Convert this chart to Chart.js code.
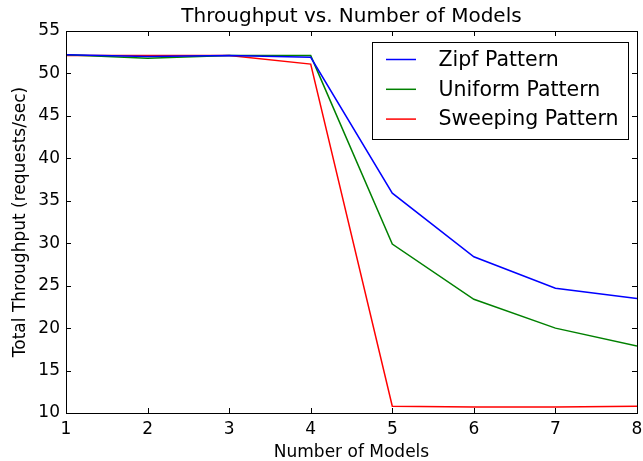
<!DOCTYPE html>
<html>
<head>
<meta charset="utf-8">
<script src="https://cdn.jsdelivr.net/npm/chart.js@4"></script>
<style>
html,body{margin:0;padding:0;background:#fff;}
canvas{display:block;}
</style>
</head>
<body>
<canvas id="c" width="643" height="461"></canvas>
<script>
const models = [1, 2, 3, 4, 5, 6, 7, 8];
const zipf = [52.2, 52.0, 52.1, 51.9, 35.9, 28.4, 24.7, 23.5];
const uniform = [52.2, 51.8, 52.1, 52.1, 29.9, 23.4, 20.0, 17.9];
const sweeping = [52.1, 52.1, 52.1, 51.1, 10.8, 10.7, 10.7, 10.8];
const yTicks = [10, 15, 20, 25, 30, 35, 40, 45, 50, 55];
const seriesNames = ['Zipf Pattern', 'Uniform Pattern', 'Sweeping Pattern'];
const colors = ['#0000ff', '#008000', '#ff0000'];
const FONT = 'DejaVu Sans';

const toPts = arr => models.map((m, i) => ({x: m, y: arr[i]}));

const framePlugin = {
  id: 'frame',
  afterDraw(chart) {
    const ctx = chart.ctx, a = chart.chartArea;
    const xs = chart.scales.x, ys = chart.scales.y;
    ctx.save();
    ctx.strokeStyle = '#000';
    ctx.lineWidth = 1;
    ctx.strokeRect(Math.round(a.left) + 0.5, Math.round(a.top) + 0.5,
                   Math.round(a.right - a.left), Math.round(a.bottom - a.top));
    const L = 5;
    ctx.beginPath();
    xs.ticks.forEach(t => {
      const px = Math.round(xs.getPixelForValue(t.value)) + 0.5;
      ctx.moveTo(px, a.bottom); ctx.lineTo(px, a.bottom - L);
      ctx.moveTo(px, a.top); ctx.lineTo(px, a.top + L);
    });
    ys.ticks.forEach(t => {
      const py = Math.round(ys.getPixelForValue(t.value)) + 0.5;
      ctx.moveTo(a.left, py); ctx.lineTo(a.left + L, py);
      ctx.moveTo(a.right, py); ctx.lineTo(a.right - L, py);
    });
    ctx.stroke();
    // title
    ctx.fillStyle = '#000';
    ctx.font = '20px ' + FONT;
    ctx.textAlign = 'center';
    ctx.textBaseline = 'middle';
    ctx.fillText('Throughput vs. Number of Models', (a.left + a.right) / 2, 17);
    // legend
    const bx = 372.5, by = 42.5, bw = 256, bh = 97;
    ctx.fillStyle = '#fff';
    ctx.fillRect(bx, by, bw, bh);
    ctx.strokeRect(bx, by, bw, bh);
    ctx.font = '20.5px ' + FONT;
    ctx.textAlign = 'left';
    chart.data.datasets.forEach((ds, i) => {
      const yy = 59.5 + i * 29.8;
      ctx.strokeStyle = ds.borderColor;
      ctx.lineWidth = 1.5;
      ctx.beginPath();
      ctx.moveTo(386, yy); ctx.lineTo(416, yy);
      ctx.stroke();
      ctx.fillStyle = '#000';
      ctx.fillText(ds.label, 438.5, yy + 1);
    });
    ctx.restore();
  }
};

new Chart(document.getElementById('c'), {
  type: 'line',
  data: {
    datasets: [
      {label: seriesNames[0], data: toPts(zipf), borderColor: colors[0]},
      {label: seriesNames[1], data: toPts(uniform), borderColor: colors[1]},
      {label: seriesNames[2], data: toPts(sweeping), borderColor: colors[2]}
    ].map(d => Object.assign(d, {borderWidth: 1.5, pointRadius: 0, tension: 0, fill: false}))
  },
  options: {
    responsive: false,
    animation: false,
    devicePixelRatio: 1,
    layout: {padding: {top: 31, right: 6, left: 0, bottom: 0}},
    plugins: {legend: {display: false}, title: {display: false}, tooltip: {enabled: false}},
    scales: {
      x: {
        type: 'linear', min: 1, max: 8,
        afterFit: s => { s.height = 48; s.paddingRight = 0; s.paddingLeft = 0; },
        ticks: {stepSize: 1, color: '#000', font: {family: FONT, size: 17}, padding: 6, maxRotation: 0},
        grid: {display: false, drawTicks: false},
        border: {display: false},
        title: {display: true, text: 'Number of Models', color: '#000', font: {family: FONT, size: 17, lineHeight: 1.0}, padding: {top: 0, bottom: 0}}
      },
      y: {
        type: 'linear', min: 10, max: 55,
        afterFit: s => { s.width = 66; s.paddingTop = 0; s.paddingBottom = 0; },
        afterBuildTicks: s => { s.ticks = yTicks.map(v => ({value: v})); },
        ticks: {color: '#000', font: {family: FONT, size: 17}, padding: 6},
        grid: {display: false, drawTicks: false},
        border: {display: false},
        title: {display: true, text: 'Total Throughput (requests/sec)', color: '#000', font: {family: FONT, size: 17}, padding: {top: 10, bottom: 0}}
      }
    }
  },
  plugins: [framePlugin]
});
</script>
</body>
</html>
